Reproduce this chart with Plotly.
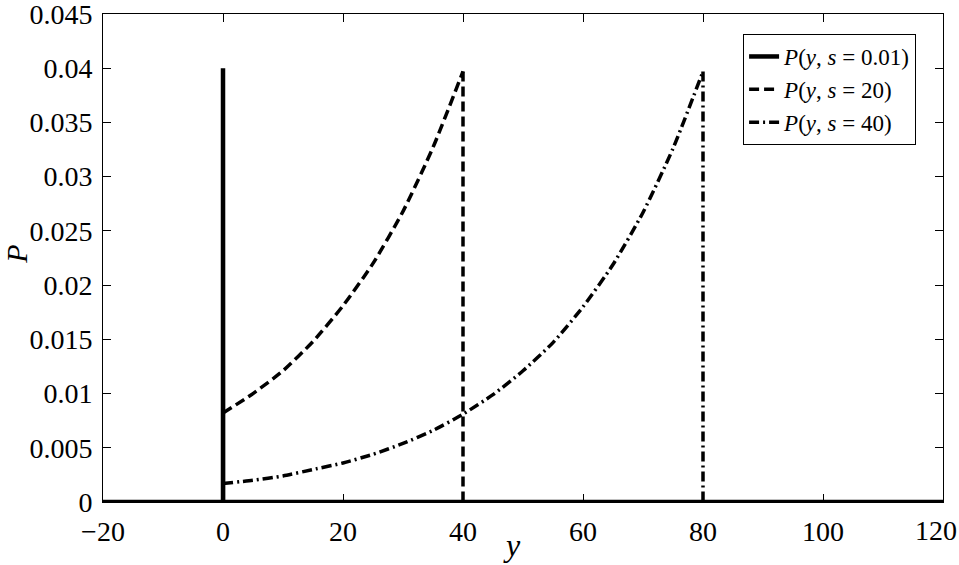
"""Probability density P(y, s) for three values of s."""

import plotly.graph_objects as go

# ── data ─────────────────────────────────────────────────────────────

# s = 0.01: narrow spike at y = 0
y_s001 = [-20, 0, 0, 0.02, 0.02, 120]
p_s001 = [0, 0, 0.04, 0.04, 0, 0]

# s = 20: rises from y = 0 to y = 40, then drops to zero
y_s20 = [0, 5, 10, 15, 20, 25, 30, 35, 40]
p_s20 = [0.0082, 0.0100, 0.0121, 0.0148, 0.0181, 0.0220, 0.0268, 0.0327, 0.0397]

# s = 40: rises from y = 0 to y = 80, then drops to zero
y_s40 = [0, 5, 10, 15, 20, 25, 30, 35, 40, 45, 50, 55, 60, 65, 70, 75, 80]
p_s40 = [0.0017, 0.0020, 0.0024, 0.0030, 0.0036, 0.0044, 0.0054, 0.0066, 0.0081,
         0.0099, 0.0121, 0.0147, 0.0180, 0.0219, 0.0267, 0.0326, 0.0397]

x_ticks = [-20, 0, 20, 40, 60, 80, 100, 120]
x_tick_text = ["\u221220", "0", "20", "40", "60", "80", "100", "120"]
y_ticks = [0, 0.005, 0.01, 0.015, 0.02, 0.025, 0.03, 0.035, 0.04, 0.045]
y_tick_text = ["0", "0.005", "0.01", "0.015", "0.02", "0.025", "0.03", "0.035", "0.04", "0.045"]

# ── chart ────────────────────────────────────────────────────────────

FONT = "Liberation Serif, Times New Roman, serif"
DASH = {"s20": "10px,5px", "s40": "10px,4px,2px,4px"}
TICK_FONT = {"family": FONT, "size": 28, "color": "black"}


def add_curve(fig, xs, ps, name, dash, group):
    """Curved part (smoothed) plus the zero tails and vertical drops (straight)."""
    fig.add_trace(
        go.Scatter(
            x=xs, y=ps, mode="lines", name=name, legendgroup=group,
            line={"color": "black", "width": 3.5, "dash": dash, "shape": "spline", "smoothing": 0.6},
        )
    )
    # zero baseline on the left, then the jump up at y = 0
    fig.add_trace(
        go.Scatter(
            x=[-20, xs[0], xs[0]], y=[0, 0, ps[0]], mode="lines",
            legendgroup=group, showlegend=False, hoverinfo="skip",
            line={"color": "black", "width": 3.5, "dash": dash},
        )
    )
    # vertical drop at the right end and the zero baseline after it
    fig.add_trace(
        go.Scatter(
            x=[xs[-1], xs[-1], 120], y=[ps[-1], 0, 0], mode="lines",
            legendgroup=group, showlegend=False, hoverinfo="skip",
            line={"color": "black", "width": 3.5, "dash": dash},
        )
    )


fig = go.Figure()
fig.add_trace(
    go.Scatter(
        x=y_s001, y=p_s001, mode="lines",
        name="<i>P</i>(<i>y</i>, <i>s</i> = 0.01)", legendgroup="s001",
        line={"color": "black", "width": 4.5},
    )
)
add_curve(fig, y_s20, p_s20, "<i>P</i>(<i>y</i>, <i>s</i> = 20)", DASH["s20"], "s20")
add_curve(fig, y_s40, p_s40, "<i>P</i>(<i>y</i>, <i>s</i> = 40)", DASH["s40"], "s40")

axis_common = dict(
    showgrid=False,
    zeroline=False,
    showline=True,
    linecolor="black",
    linewidth=1,
    mirror="ticks",
    ticks="inside",
    ticklen=8,
    tickcolor="black",
    automargin=False,
    ticklabeloverflow="allow",
    tickfont=TICK_FONT,
)

fig.update_layout(
    width=959,
    height=565,
    margin={"l": 103, "r": 16, "t": 14, "b": 63, "autoexpand": False},
    paper_bgcolor="white",
    plot_bgcolor="white",
    font={"family": FONT, "color": "black"},
    showlegend=True,
    legend={
        "x": 0.762, "y": 0.959, "xanchor": "left", "yanchor": "top",
        "bordercolor": "black", "borderwidth": 1, "bgcolor": "white",
        "font": {"family": FONT, "size": 23, "color": "black"},
        "traceorder": "normal",
        "tracegroupgap": 0,
    },
    # last x label is drawn as an annotation so it can sit flush with the page edge
    xaxis=dict(axis_common, range=[-20, 120], tickvals=x_ticks,
               ticktext=x_tick_text[:-1] + [""], ticklabelstandoff=4),
    yaxis=dict(axis_common, range=[0, 0.045], tickvals=y_ticks, ticktext=y_tick_text,
               ticklabelstandoff=4),
    annotations=[
        dict(text=x_tick_text[-1], x=1.0185, y=0, xref="paper", yref="paper",
             xanchor="right", yanchor="top", yshift=-11,
             showarrow=False, font=TICK_FONT),
        dict(text="<i>y</i>", x=0.487, y=-0.088, xref="paper", yref="paper",
             xanchor="center", yanchor="middle",
             showarrow=False, font={"family": FONT, "size": 32}),
        dict(text="<i>P</i>", x=-0.104, y=0.508, xref="paper", yref="paper",
             xanchor="center", yanchor="middle",
             showarrow=False, textangle=-90, font={"family": FONT, "size": 30}),
    ],
)

# the page's default 8px body margin would shift the figure; remove it
fig.write_html(
    "out.html",
    config={"displayModeBar": False},
    post_script="document.body.style.margin = '0';",
)
